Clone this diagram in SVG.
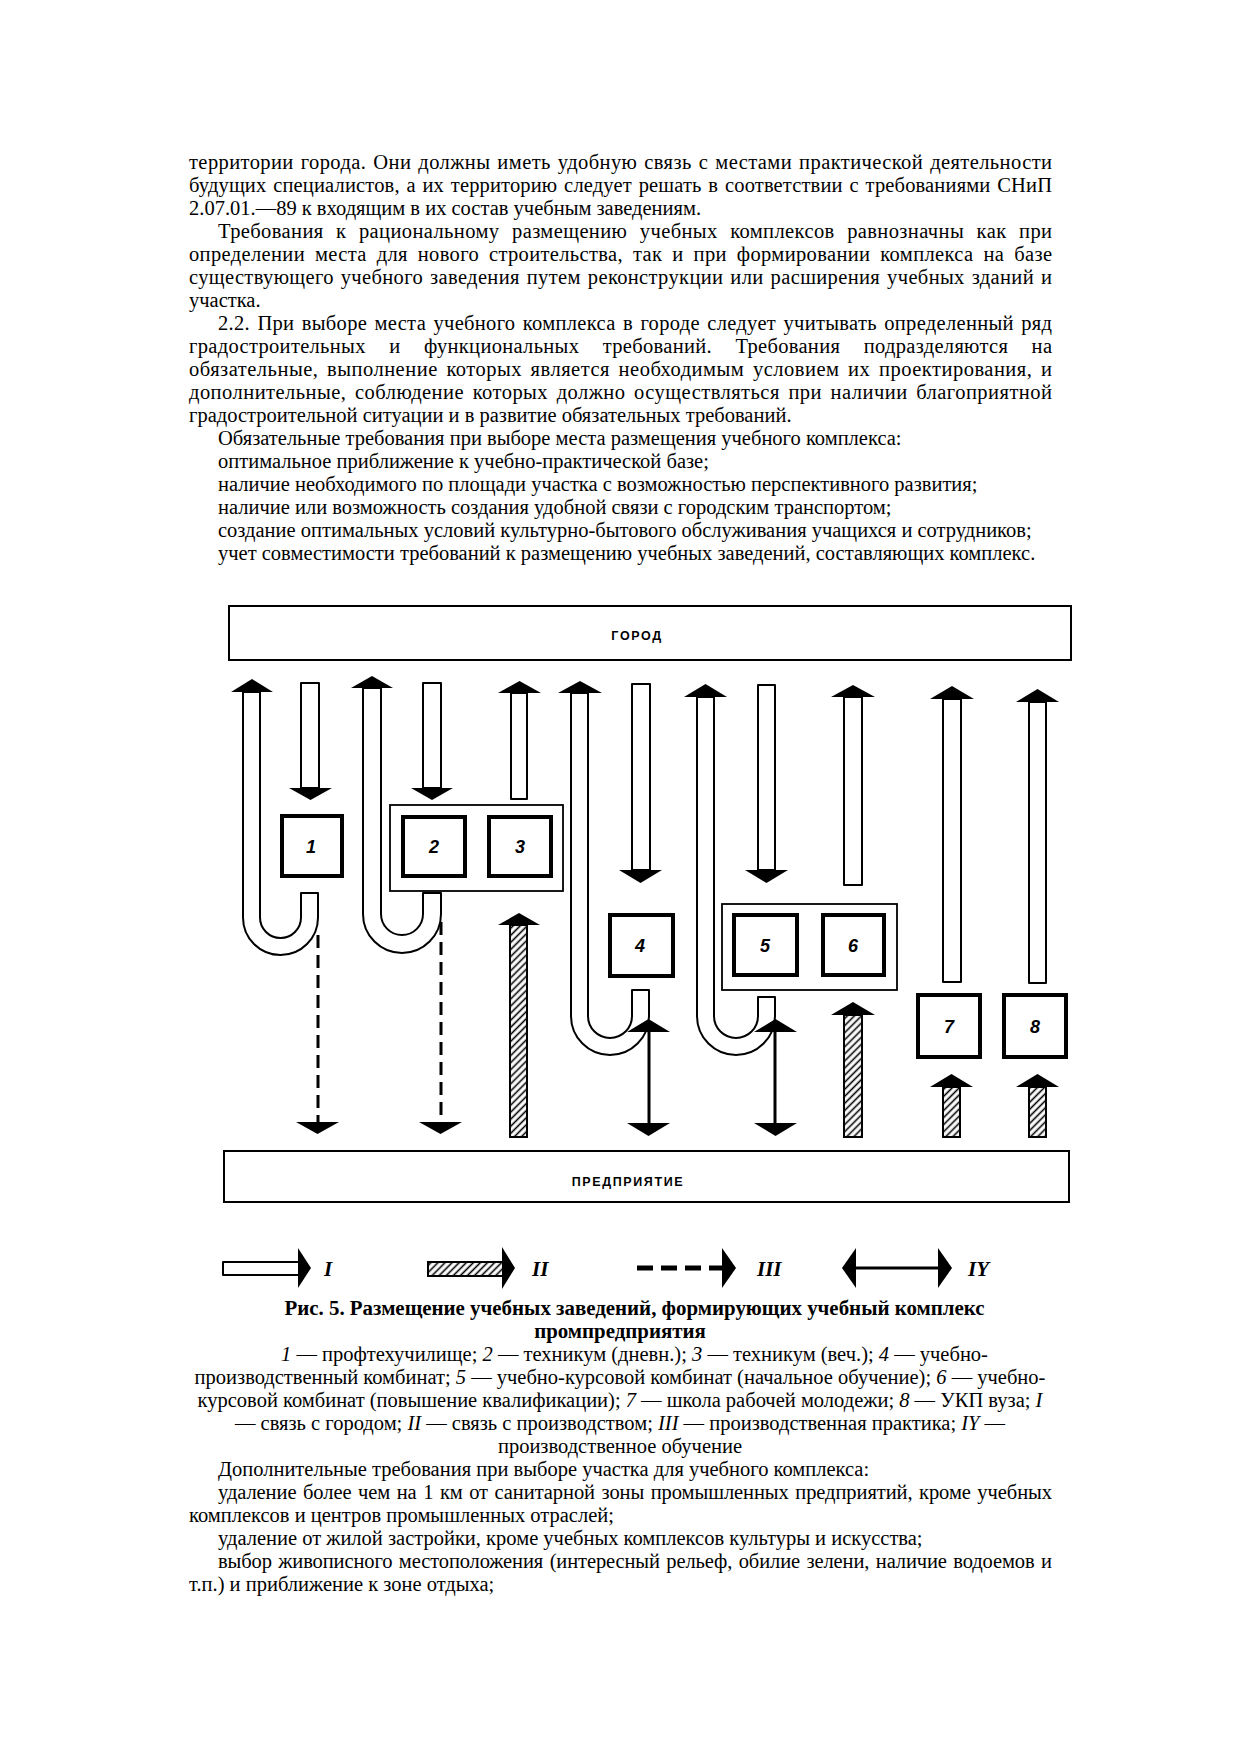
<svg xmlns="http://www.w3.org/2000/svg" width="1240" height="1755" viewBox="0 0 1240 1755">
<defs>
<style>
.t{font-family:"Liberation Serif","Times New Roman",serif;font-size:20.5px;fill:#000}
.b{font-weight:bold;font-size:20.9px}
.i{font-style:italic}
.c{text-anchor:middle}
.box{fill:#fff;stroke:#000;stroke-width:4}
.grp{fill:#fff;stroke:#000;stroke-width:1.8}
.bar{fill:#fff;stroke:#000;stroke-width:2}
.tube{fill:#fff;stroke:#000;stroke-width:2;stroke-linejoin:round}
.hat{fill:url(#hatch);stroke:#000;stroke-width:2}
.head{fill:#000}
.dash{fill:none;stroke:#000;stroke-width:3;stroke-dasharray:13 7}
.ln{fill:none;stroke:#000;stroke-width:3}
.num{font-family:"Liberation Sans","DejaVu Sans",sans-serif;font-weight:bold;font-style:italic;font-size:18px;text-anchor:middle;fill:#000}
.lbl{font-family:"Liberation Sans","DejaVu Sans",sans-serif;font-weight:bold;font-size:12.5px;letter-spacing:1.6px;text-anchor:middle;fill:#000}
.leg{font-family:"Liberation Serif","Times New Roman",serif;font-weight:bold;font-style:italic;font-size:21px;fill:#000}
</style>
<pattern id="hatch" patternUnits="userSpaceOnUse" width="5" height="5" patternTransform="rotate(45)">
<rect width="5" height="5" fill="#fff"/>
<line x1="2.5" y1="0" x2="2.5" y2="5" stroke="#000" stroke-width="1.6"/>
</pattern>
</defs>
<rect width="1240" height="1755" fill="#fff"/>

<g id="body-text" class="t">
<text x="189" y="169" textLength="863" lengthAdjust="spacing" word-spacing="1.5">территории города. Они должны иметь удобную связь с местами практической деятельности</text>
<text x="189" y="192" textLength="863" lengthAdjust="spacing" word-spacing="1.5">будущих специалистов, а их территорию следует решать в соответствии с требованиями СНиП</text>
<text x="189" y="215">2.07.01.—89 к входящим в их состав учебным заведениям.</text>
<text x="218" y="238" textLength="834" lengthAdjust="spacing" word-spacing="7">Требования к рациональному размещению учебных комплексов равнозначны как при</text>
<text x="189" y="261" textLength="863" lengthAdjust="spacing" word-spacing="4.5">определении места для нового строительства, так и при формировании комплекса на базе</text>
<text x="189" y="284" textLength="863" lengthAdjust="spacing" word-spacing="1.5">существующего учебного заведения путем реконструкции или расширения учебных зданий и</text>
<text x="189" y="307">участка.</text>
<text x="218" y="330" textLength="834" lengthAdjust="spacing" word-spacing="2">2.2. При выборе места учебного комплекса в городе следует учитывать определенный ряд</text>
<text x="189" y="353" textLength="863" lengthAdjust="spacing" word-spacing="18">градостроительных и функциональных требований. Требования подразделяются на</text>
<text x="189" y="376" textLength="863" lengthAdjust="spacing" word-spacing="3">обязательные, выполнение которых является необходимым условием их проектирования, и</text>
<text x="189" y="399" textLength="863" lengthAdjust="spacing" word-spacing="3">дополнительные, соблюдение которых должно осуществляться при наличии благоприятной</text>
<text x="189" y="422">градостроительной ситуации и в развитие обязательных требований.</text>
<text x="218" y="445">Обязательные требования при выборе места размещения учебного комплекса:</text>
<text x="218" y="468">оптимальное приближение к учебно-практической базе;</text>
<text x="218" y="491">наличие необходимого по площади участка с возможностью перспективного развития;</text>
<text x="218" y="514">наличие или возможность создания удобной связи с городским транспортом;</text>
<text x="218" y="537">создание оптимальных условий культурно-бытового обслуживания учащихся и сотрудников;</text>
<text x="218" y="560">учет совместимости требований к размещению учебных заведений, составляющих комплекс.</text>
</g>

<g id="node-gorod">
<rect class="bar" x="229" y="606" width="842" height="54"/>
<text class="lbl" x="637" y="640">ГОРОД</text>
</g>
<g id="node-predpriyatie">
<rect class="bar" x="224" y="1151" width="845" height="51"/>
<text class="lbl" x="628" y="1186">ПРЕДПРИЯТИЕ</text>
</g>

<g id="connectors">
<!-- column 1 -->
<path class="tube" d="M243,692 V917.5 A37.5,37.5 0 0 0 318,917.5 V893 H301 V917.5 A20.5,20.5 0 0 1 260,917.5 V692 Z"/>
<polygon class="head" points="231,692 273,692 252,679"/>
<rect class="tube" x="301" y="683" width="18" height="105"/>
<polygon class="head" points="289,788 332,788 310.5,800"/>
<line class="dash" x1="318" y1="935" x2="318" y2="1122"/>
<polygon class="head" points="296,1122 339,1122 317.5,1134"/>
<!-- column 2/3 -->
<path class="tube" d="M363,688 V914 A39,39 0 0 0 441,914 V893 H423 V914 A21,21 0 0 1 381,914 V688 Z"/>
<polygon class="head" points="351,688 393,688 372,676"/>
<rect class="tube" x="423" y="683" width="18" height="105"/>
<polygon class="head" points="411,788 453,788 432,800"/>
<line class="dash" x1="441" y1="922" x2="441" y2="1122"/>
<polygon class="head" points="419,1122 462,1122 440.5,1134"/>
<rect class="tube" x="511" y="693" width="16" height="106"/>
<polygon class="head" points="498,693 541,693 519.5,681"/>
<rect class="hat" x="510" y="925" width="17" height="212"/>
<polygon class="head" points="498,925 540,925 519,913"/>
<!-- column 4 -->
<path class="tube" d="M571,693 V1016 A39,39 0 0 0 649,1016 V990 H632 V1016 A22,22 0 0 1 588,1016 V693 Z"/>
<polygon class="head" points="558,693 602,693 580,681"/>
<rect class="tube" x="632" y="684" width="18" height="186"/>
<polygon class="head" points="619,870 662,870 640.5,883"/>
<line class="ln" x1="649" y1="1030" x2="649" y2="1125"/>
<polygon class="head" points="627,1032 670,1032 648.5,1019"/>
<polygon class="head" points="627,1123 670,1123 648.5,1136"/>
<!-- column 5/6 -->
<path class="tube" d="M697,697 V1016 A39,39 0 0 0 775,1016 V997 H758 V1016 A22,22 0 0 1 714,1016 V697 Z"/>
<polygon class="head" points="684,697 727,697 705.5,684"/>
<rect class="tube" x="758" y="685" width="17" height="185"/>
<polygon class="head" points="745,870 788,870 766.5,883"/>
<line class="ln" x1="775" y1="1030" x2="775" y2="1125"/>
<polygon class="head" points="754,1032 797,1032 775.5,1019"/>
<polygon class="head" points="754,1123 797,1123 775.5,1136"/>
<rect class="tube" x="844" y="697" width="18" height="188"/>
<polygon class="head" points="831,697 875,697 853,685"/>
<rect class="hat" x="844" y="1015" width="18" height="122"/>
<polygon class="head" points="831,1015 875,1015 853,1002"/>
<!-- column 7 -->
<rect class="tube" x="943" y="699" width="18" height="283"/>
<polygon class="head" points="930,699 974,699 952,686"/>
<rect class="hat" x="943" y="1087" width="17" height="50"/>
<polygon class="head" points="930,1087 973,1087 951.5,1074"/>
<!-- column 8 -->
<rect class="tube" x="1029" y="702" width="17" height="281"/>
<polygon class="head" points="1016,702 1059,702 1037.5,689"/>
<rect class="hat" x="1029" y="1087" width="17" height="50"/>
<polygon class="head" points="1016,1087 1059,1087 1037.5,1074"/>
</g>

<g id="node-1"><rect class="box" x="282" y="816" width="60" height="60"/><text class="num" x="311" y="853">1</text></g>
<g id="node-group-23"><rect class="grp" x="390" y="805" width="173" height="86"/></g>
<g id="node-2"><rect class="box" x="403" y="817" width="62" height="59"/><text class="num" x="434" y="853">2</text></g>
<g id="node-3"><rect class="box" x="489" y="817" width="62" height="59"/><text class="num" x="520" y="853">3</text></g>
<g id="node-4"><rect class="box" x="610" y="915" width="63" height="61"/><text class="num" x="640" y="952">4</text></g>
<g id="node-group-56"><rect class="grp" x="722" y="904" width="175" height="86"/></g>
<g id="node-5"><rect class="box" x="734" y="915" width="63" height="60"/><text class="num" x="765" y="952">5</text></g>
<g id="node-6"><rect class="box" x="823" y="915" width="61" height="60"/><text class="num" x="853" y="952">6</text></g>
<g id="node-7"><rect class="box" x="918" y="995" width="62" height="62"/><text class="num" x="949" y="1033">7</text></g>
<g id="node-8"><rect class="box" x="1004" y="995" width="62" height="62"/><text class="num" x="1035" y="1033">8</text></g>

<g id="legend">
<rect class="tube" x="223" y="1262" width="76" height="13"/>
<polygon class="head" points="298,1248 311,1268 298,1288"/>
<text class="leg" x="324" y="1276">I</text>
<rect class="hat" x="428" y="1262" width="75" height="14"/>
<polygon class="head" points="502,1247 515,1268 502,1289"/>
<text class="leg" x="532" y="1276">II</text>
<line x1="637" y1="1268" x2="725" y2="1268" stroke="#000" stroke-width="5" stroke-dasharray="16 8"/>
<polygon class="head" points="722,1248 736,1268 722,1288"/>
<text class="leg" x="757" y="1276">III</text>
<line class="ln" x1="852" y1="1268" x2="942" y2="1268"/>
<polygon class="head" points="856,1248 842,1268 856,1288"/>
<polygon class="head" points="938,1248 952,1268 938,1288"/>
<text class="leg" x="968" y="1276">IY</text>
</g>

<g id="caption" class="t">
<text class="b c" x="634.5" y="1315">Рис. 5. Размещение учебных заведений, формирующих учебный комплекс</text>
<text class="b c" x="620" y="1338">промпредприятия</text>
<text class="c" x="634.5" y="1361"><tspan class="i">1</tspan> — профтехучилище; <tspan class="i">2</tspan> — техникум (дневн.); <tspan class="i">3</tspan> — техникум (веч.); <tspan class="i">4</tspan> — учебно-</text>
<text class="c" x="620" y="1384">производственный комбинат; <tspan class="i">5</tspan> — учебно-курсовой комбинат (начальное обучение); <tspan class="i">6</tspan> — учебно-</text>
<text class="c" x="620" y="1407">курсовой комбинат (повышение квалификации); <tspan class="i">7</tspan> — школа рабочей молодежи; <tspan class="i">8</tspan> — УКП вуза; <tspan class="i">I</tspan></text>
<text class="c" x="620" y="1430">— связь с городом; <tspan class="i">II</tspan> — связь с производством; <tspan class="i">III</tspan> — производственная практика; <tspan class="i">IY</tspan> —</text>
<text class="c" x="620" y="1453">производственное обучение</text>
</g>

<g id="body-text-2" class="t">
<text x="218" y="1476">Дополнительные требования при выборе участка для учебного комплекса:</text>
<text x="218" y="1499" textLength="834" lengthAdjust="spacing" word-spacing="1.5">удаление более чем на 1 км от санитарной зоны промышленных предприятий, кроме учебных</text>
<text x="189" y="1522">комплексов и центров промышленных отраслей;</text>
<text x="218" y="1545">удаление от жилой застройки, кроме учебных комплексов культуры и искусства;</text>
<text x="218" y="1568" textLength="834" lengthAdjust="spacing" word-spacing="1.5">выбор живописного местоположения (интересный рельеф, обилие зелени, наличие водоемов и</text>
<text x="189" y="1591">т.п.) и приближение к зоне отдыха;</text>
</g>
</svg>
